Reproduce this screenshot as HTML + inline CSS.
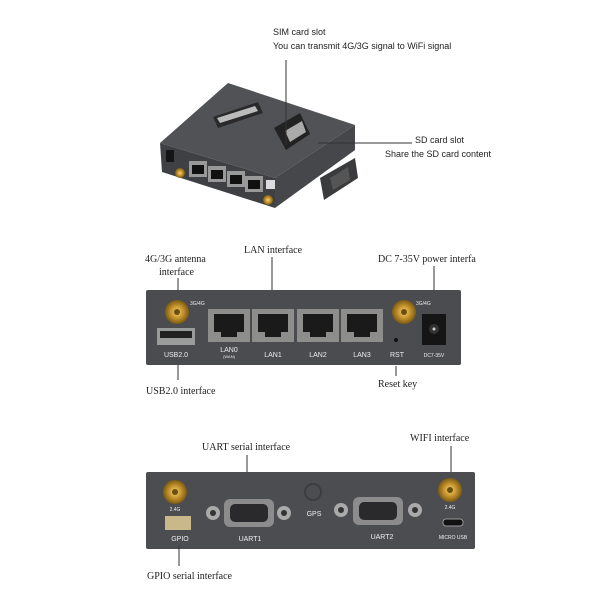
<!DOCTYPE html>
<html><head><meta charset="utf-8"><style>
html,body{margin:0;padding:0;background:#fff;width:600px;height:600px;overflow:hidden}
svg{display:block}
.s{font-family:"Liberation Sans",sans-serif}
.r{font-family:"Liberation Serif",serif}
</style></head><body>
<svg width="600" height="600" viewBox="0 0 600 600" xmlns="http://www.w3.org/2000/svg">
<defs>
<radialGradient id="g" cx="50%" cy="50%" r="50%"><stop offset="0" stop-color="#f2d37a"/><stop offset="0.5" stop-color="#c9962e"/><stop offset="1" stop-color="#7a5a14"/></radialGradient>
</defs>
<rect width="600" height="600" fill="#fff"/>
<polygon points="160,143 228,83 355,125 275,178" fill="#505255"/>
<polygon points="160,143 275,178 275,208 162,172" fill="#3f4043"/>
<polygon points="275,178 355,125 355,150 275,208" fill="#46474a"/>
<polygon points="213,117 258,102 263,113 218,128" fill="#2a2a2a"/>
<polygon points="217,118 255,106 258,111 220,123" fill="#bbb"/>
<polygon points="274,128 300,113 310,134 286,150" fill="#222"/>
<polygon points="285,131 302,121 306,132 290,142" fill="#aaa"/>
<polygon points="320,178 355,158 358,178 324,200" fill="#3a3b3d"/>
<polygon points="330,178 348,167 350,180 333,190" fill="#555"/>
<rect x="166" y="150" width="8" height="12" fill="#151515"/>
<rect x="189" y="161" width="18" height="16" fill="#999"/><rect x="192" y="165" width="12" height="9" fill="#111"/>
<rect x="208" y="166" width="18" height="16" fill="#999"/><rect x="211" y="170" width="12" height="9" fill="#111"/>
<rect x="227" y="171" width="18" height="16" fill="#999"/><rect x="230" y="175" width="12" height="9" fill="#111"/>
<rect x="245" y="176" width="18" height="16" fill="#999"/><rect x="248" y="180" width="12" height="9" fill="#111"/>
<rect x="266" y="180" width="9" height="9" fill="#ddd"/>
<circle cx="180" cy="173" r="5" fill="url(#g)"/>
<circle cx="268" cy="200" r="5" fill="url(#g)"/>
<line x1="286" y1="60" x2="286" y2="145" stroke="#333" stroke-width="1"/>
<line x1="318" y1="143" x2="412" y2="143" stroke="#333" stroke-width="1"/>
<text x="273" y="35" class="s" font-size="9" fill="#222">SIM card slot</text>
<text x="273" y="49" class="s" font-size="9" fill="#222">You can transmit 4G/3G signal to WiFi signal</text>
<text x="415" y="143" class="s" font-size="9" fill="#222">SD card slot</text>
<text x="385" y="157" class="s" font-size="9" fill="#222">Share the SD card content</text>

<text x="145" y="262" class="r" font-size="10" fill="#222">4G/3G antenna</text>
<text x="159" y="275" class="r" font-size="10" fill="#222">interface</text>
<text x="244" y="253" class="r" font-size="10" fill="#222">LAN interface</text>
<text x="378" y="262" class="r" font-size="10" fill="#222">DC 7-35V power interfa</text>
<line x1="178" y1="278" x2="178" y2="305" stroke="#333"/>
<line x1="272" y1="257" x2="272" y2="312" stroke="#333"/>
<line x1="434" y1="266" x2="434" y2="318" stroke="#333"/>
<rect x="146" y="290" width="315" height="75" rx="2" fill="#4b4c4f"/>
<circle cx="177" cy="312" r="12" fill="url(#g)"/><circle cx="177" cy="312" r="3" fill="#6a4f10"/>
<circle cx="404" cy="312" r="12" fill="url(#g)"/><circle cx="404" cy="312" r="3" fill="#6a4f10"/>
<text x="190" y="305" class="s" font-size="5" fill="#eee">3G/4G</text>
<text x="416" y="305" class="s" font-size="5" fill="#eee">3G/4G</text>
<g fill="#8d8e8c"><rect x="208" y="309" width="42" height="33"/><rect x="252" y="309" width="42" height="33"/><rect x="297" y="309" width="42" height="33"/><rect x="341" y="309" width="42" height="33"/></g>
<g fill="#1a1a1a"><rect x="214" y="314" width="30" height="18"/><rect x="258" y="314" width="30" height="18"/><rect x="303" y="314" width="30" height="18"/><rect x="347" y="314" width="30" height="18"/>
<rect x="221" y="332" width="16" height="5"/><rect x="265" y="332" width="16" height="5"/><rect x="310" y="332" width="16" height="5"/><rect x="354" y="332" width="16" height="5"/></g>
<rect x="157" y="328" width="38" height="17" fill="#9a9b9b"/><rect x="160" y="331" width="32" height="7" fill="#222"/>
<rect x="422" y="314" width="24" height="31" fill="#151515"/><circle cx="434" cy="329" r="5" fill="#333"/><circle cx="434" cy="329" r="1.5" fill="#ccc"/>
<circle cx="396" cy="340" r="2" fill="#111"/>
<g class="s" font-size="7" fill="#eee" text-anchor="middle">
<text x="176" y="357">USB2.0</text><text x="229" y="352">LAN0</text><text x="229" y="358" font-size="4">(WAN)</text>
<text x="273" y="357">LAN1</text><text x="318" y="357">LAN2</text><text x="362" y="357">LAN3</text><text x="397" y="357">RST</text>
<text x="434" y="357" font-size="5">DC7-35V</text></g>
<line x1="178" y1="365" x2="178" y2="380" stroke="#333"/>
<line x1="396" y1="366" x2="396" y2="376" stroke="#333"/>
<text x="146" y="394" class="r" font-size="10" fill="#222">USB2.0 interface</text>
<text x="378" y="387" class="r" font-size="10" fill="#222">Reset key</text>

<text x="202" y="450" class="r" font-size="10" fill="#222">UART serial interface</text>
<text x="410" y="441" class="r" font-size="10" fill="#222">WIFI interface</text>
<line x1="247" y1="455" x2="247" y2="497" stroke="#333"/>
<line x1="451" y1="446" x2="451" y2="482" stroke="#333"/>
<rect x="146" y="472" width="329" height="77" rx="2" fill="#4c4d50"/>
<circle cx="175" cy="492" r="12" fill="url(#g)"/><circle cx="175" cy="492" r="3" fill="#6a4f10"/>
<circle cx="450" cy="490" r="12" fill="url(#g)"/><circle cx="450" cy="490" r="3" fill="#6a4f10"/>
<g fill="#aaa"><circle cx="213" cy="513" r="7"/><circle cx="284" cy="513" r="7"/><circle cx="341" cy="510" r="7"/><circle cx="415" cy="510" r="7"/></g>
<g fill="#333"><circle cx="213" cy="513" r="3"/><circle cx="284" cy="513" r="3"/><circle cx="341" cy="510" r="3"/><circle cx="415" cy="510" r="3"/></g>
<rect x="224" y="499" width="50" height="28" rx="6" fill="#8c8c8c"/><rect x="230" y="504" width="38" height="18" rx="5" fill="#2a2a2c"/>
<rect x="353" y="497" width="50" height="28" rx="6" fill="#8c8c8c"/><rect x="359" y="502" width="38" height="18" rx="5" fill="#2a2a2c"/>
<circle cx="313" cy="492" r="8" fill="none" stroke="#3c3d40" stroke-width="2"/>
<rect x="165" y="516" width="26" height="14" fill="#c9b98a"/>
<rect x="443" y="519" width="20" height="7" rx="3" fill="#111" stroke="#999"/>
<g class="s" font-size="7" fill="#eee" text-anchor="middle">
<text x="175" y="511" font-size="5">2.4G</text><text x="450" y="509" font-size="5">2.4G</text>
<text x="314" y="516">GPS</text><text x="180" y="541">GPIO</text><text x="250" y="541">UART1</text><text x="382" y="539">UART2</text>
<text x="453" y="539" font-size="5">MICRO USB</text></g>
<line x1="179" y1="546" x2="179" y2="566" stroke="#333"/>
<text x="147" y="579" class="r" font-size="10" fill="#222">GPIO serial interface</text>
</svg>
</body></html>
